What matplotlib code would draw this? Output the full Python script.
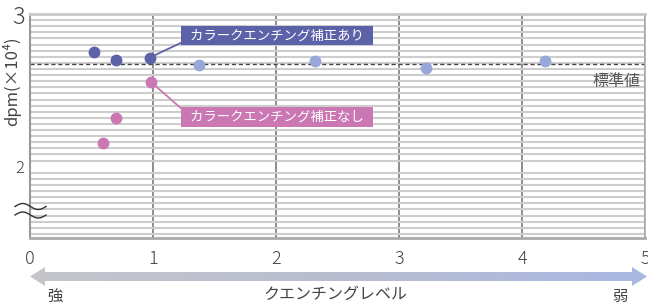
import numpy as np
import matplotlib
matplotlib.use("Agg")
import matplotlib.pyplot as plt
from matplotlib.patches import Polygon

plt.rcParams["font.family"] = ["Noto Sans CJK JP", "DejaVu Sans"]

# data
corr_x = [0.52, 0.70, 0.975]          # カラークエンチング補正あり
corr_y = [2.748, 2.702, 2.715]
weak_x = [1.37, 2.32, 3.22, 4.19]     # lighter points (weaker quenching)
weak_y = [2.668, 2.690, 2.645, 2.690]
nocorr_x = [0.59, 0.70, 0.98]         # カラークエンチング補正なし
nocorr_y = [2.155, 2.316, 2.557]
std_value = 2.671                     # 標準値

x_ticks = [0, 1, 2, 3, 4, 5]
y_ticks = [2, 3]

DARK = "#5c62a8"
LIGHT = "#97a7da"
PINK = "#cb77b4"
TXT = "#444444"

W, H = 648, 304
fig = plt.figure(figsize=(W / 100, H / 100), dpi=100)
ax = fig.add_axes([30 / W, 1 - 238 / H, 615 / W, 224 / H])
ax.set_xlim(0, 5)
ax.set_ylim(1.533, 3)

# fine horizontal rules every 0.04
ax.set_yticks(np.round(np.arange(1.56, 3.0, 0.04), 2), minor=True)
ax.grid(which="minor", axis="y", color="#cdcdcd", lw=1.5)
ax.set_xticks(x_ticks)
ax.grid(which="major", axis="x", color="#858585", lw=1.3)
ax.set_yticks(y_ticks)
ax.set_yticklabels([str(v) for v in y_ticks])
ax.set_axisbelow(True)
ax.tick_params(which="both", length=0)
ax.tick_params(axis="x", labelsize=13, pad=9, labelcolor=TXT)
ax.tick_params(axis="y", pad=4, labelcolor=TXT)
for lab in ax.get_yticklabels():
    lab.set_fontsize(17 if lab.get_text() == "3" else 12)
    lab.set_fontweight("light")
for lab in ax.get_xticklabels():
    lab.set_fontweight("light")

ax.spines["left"].set(color="#999999", lw=1.5)
ax.spines["bottom"].set(color="#aaaaaa", lw=2)
ax.spines["top"].set(color="#c8c8c8", lw=2)
ax.spines["right"].set(color="#aaaaaa", lw=1.2)

ax.axhline(std_value, color="#444444", lw=1, ls=(0, (3, 2)), zorder=2)
ax.text(4.967, 2.56, "標準値", ha="right", va="center", fontsize=11.5, color="#555555")

ax.plot(corr_x, corr_y, "o", color=DARK, ms=7.5, zorder=4)
ax.plot(weak_x, weak_y, "o", color=LIGHT, ms=7.5, zorder=4)
ax.plot(nocorr_x, nocorr_y, "o", color=PINK, ms=7.5, zorder=4)

ax.annotate("  カラークエンチング補正あり  ", xy=(corr_x[-1], corr_y[-1]),
            xytext=(1.252, 2.859), ha="left", va="center", fontsize=9.6, color="white",
            bbox=dict(boxstyle="square,pad=0.21", fc=DARK, ec="none"),
            arrowprops=dict(arrowstyle="-", color=DARK, lw=1.3, shrinkA=0, shrinkB=0,
                            relpos=(0, 0.08)), zorder=5)
ax.annotate("  カラークエンチング補正なし  ", xy=(nocorr_x[-1], nocorr_y[-1]),
            xytext=(1.252, 2.327), ha="left", va="center", fontsize=9.6, color="white",
            bbox=dict(boxstyle="square,pad=0.21", fc=PINK, ec="none"),
            arrowprops=dict(arrowstyle="-", color=PINK, lw=1.3, shrinkA=0, shrinkB=0,
                            relpos=(0, 0.92)), zorder=5)

fig.text(12 / W, 1 - 81 / H, "dpm(×10⁴)", rotation=90, ha="center", va="center",
         fontsize=12, color=TXT)

# overlay in pixel coordinates for the break mark and the gradient arrow
ov = fig.add_axes([0, 0, 1, 1], zorder=10)
ov.set_xlim(0, W)
ov.set_ylim(H, 0)
ov.axis("off")
ov.patch.set_alpha(0)

wx = np.linspace(15, 46, 60)
for c in (206.5, 215):
    ov.plot(wx, c - 3 * np.sin(2 * np.pi * (wx - 15) / 31), color="#333333", lw=1)

cy, sh, hh = 276.5, 4.5, 9.5
l, r, hl = 30, 647, 15
arrow = Polygon([(l, cy), (l + hl, cy - hh), (l + hl, cy - sh), (r - hl, cy - sh),
                 (r - hl, cy - hh), (r, cy), (r - hl, cy + hh), (r - hl, cy + sh),
                 (l + hl, cy + sh), (l + hl, cy + hh)], closed=True, fc="none", ec="none")
ov.add_patch(arrow)
grad = np.linspace(0, 1, 256).reshape(1, -1)
cmap = matplotlib.colors.LinearSegmentedColormap.from_list("g", ["#c5c6cb", "#b9bdd0", "#a8b8e2"])
im = ov.imshow(grad, cmap=cmap, extent=[l, r, cy + hh, cy - hh], aspect="auto")
im.set_clip_path(arrow)
ov.set_xlim(0, W)
ov.set_ylim(H, 0)

fig.text(55 / W, 1 - 296 / H, "強", ha="center", va="center", fontsize=11, color=TXT)
fig.text(335 / W, 1 - 294 / H, "クエンチングレベル", ha="center", va="center", fontsize=11.5, color=TXT)
fig.text(620 / W, 1 - 296 / H, "弱", ha="center", va="center", fontsize=11, color=TXT)

fig.savefig("out.png", dpi=100)
